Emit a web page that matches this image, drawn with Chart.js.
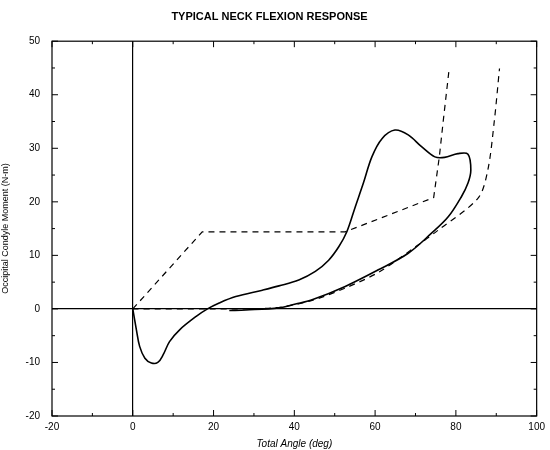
<!DOCTYPE html>
<html>
<head>
<meta charset="utf-8">
<script src="https://cdn.jsdelivr.net/npm/chart.js@4/dist/chart.umd.min.js"></script>
<style>
  html, body { margin: 0; padding: 0; background: #fff; }
  #wrap { width: 550px; height: 450px; }
</style>
</head>
<body>
<div id="wrap"><canvas id="neckChart" width="550" height="450"></canvas></div>
<script>
// measured response loop (x = total angle deg, y = moment N-m)
const responseX = [0, 0.9, 1.7, 3, 4.6, 6.2, 7.5, 9.1, 11.6, 15.7, 18.5, 21.4, 25.5, 32.1, 36.2, 41.1, 45.2, 48.5, 51, 53, 55.1, 57.1, 59.2, 61.7, 64.9, 68.2, 71.5, 74.8, 77.2, 80.5, 83, 83.7, 83, 81.4, 78.1, 73.9, 68.2, 60.8, 52.6, 44.4, 40.3, 36.2, 28, 23.9];
const responseY = [0, -3.9, -7, -9.2, -10.1, -10, -8.6, -6.1, -3.9, -1.4, 0, 1.1, 2.3, 3.5, 4.3, 5.4, 7, 9.1, 11.6, 14.4, 19.1, 23.5, 28.4, 31.8, 33.4, 32.5, 30.3, 28.4, 28.3, 29, 28.9, 25.9, 23.5, 21, 17.2, 14.1, 10.4, 7.3, 4.2, 1.7, 0.9, 0.2, -0.2, -0.3];

// corridor boundaries (dashed)
const upperX = [0, 17.2, 52.6, 74.5, 75.9, 76.9, 78.3];
const upperY = [0, 14.4, 14.4, 20.8, 28.4, 35.3, 44.6];
const lowerX = [0, 20, 35, 44, 52.6, 61, 70, 75.6, 85.5, 87.9, 89.5, 90.8];
const lowerY = [0, 0, 0.2, 1.5, 3.9, 6.9, 11.6, 14.7, 20.7, 25.9, 35, 44.9];

const xTicks = [-20, 0, 20, 40, 60, 80, 100];
const yTicks = [-20, -10, 0, 10, 20, 30, 40, 50];

function toPoints(xs, ys) {
    return xs.map((x, i) => ({ x: x, y: ys[i] }));
}

// frame + inward tick marks like the original plot
const framePlugin = {
    id: "frame",
    afterDraw(chart) {
        const ctx = chart.ctx;
        const a = chart.chartArea;
        const xs = chart.scales.x;
        const ys = chart.scales.y;
        ctx.save();
        ctx.strokeStyle = "#000";
        ctx.lineWidth = 1.2;
        ctx.strokeRect(a.left, a.top, a.right - a.left, a.bottom - a.top);
        ctx.lineWidth = 1;
        ctx.beginPath();
        for (let v = -20; v <= 100; v += 10) {
            const p = xs.getPixelForValue(v);
            const len = v % 20 === 0 ? 6 : 3;
            ctx.moveTo(p, a.bottom); ctx.lineTo(p, a.bottom - len);
            ctx.moveTo(p, a.top); ctx.lineTo(p, a.top + len);
        }
        for (let v = -20; v <= 50; v += 5) {
            const p = ys.getPixelForValue(v);
            const len = v % 10 === 0 ? 6 : 3;
            ctx.moveTo(a.left, p); ctx.lineTo(a.left + len, p);
            ctx.moveTo(a.right, p); ctx.lineTo(a.right - len, p);
        }
        ctx.stroke();
        ctx.restore();
    }
};

const zeroLine = (c) => c.tick && c.tick.value === 0 ? "#000" : "rgba(0,0,0,0)";

new Chart(document.getElementById("neckChart").getContext("2d"), {
    type: "scatter",
    data: {
        datasets: [
            {
                label: "Response",
                data: toPoints(responseX, responseY),
                showLine: true,
                borderColor: "#000",
                borderWidth: 1.6,
                pointRadius: 0,
                tension: 0.35
            },
            {
                label: "Upper corridor",
                data: toPoints(upperX, upperY),
                showLine: true,
                borderColor: "#000",
                borderWidth: 1.2,
                borderDash: [6, 5],
                pointRadius: 0,
                tension: 0
            },
            {
                label: "Lower corridor",
                data: toPoints(lowerX, lowerY),
                showLine: true,
                borderColor: "#000",
                borderWidth: 1.2,
                borderDash: [6, 5],
                pointRadius: 0,
                tension: 0.3
            }
        ]
    },
    options: {
        responsive: false,
        animation: false,
        layout: { padding: { left: 0, right: 11, top: 0, bottom: 0 } },
        plugins: {
            legend: { display: false },
            tooltip: { enabled: false },
            title: {
                display: true,
                text: "TYPICAL NECK FLEXION RESPONSE",
                color: "#000",
                font: { family: "Liberation Sans, Arial, sans-serif", size: 11, weight: "bold" },
                padding: { top: 10, bottom: 18 }
            }
        },
        scales: {
            x: {
                type: "linear",
                min: -20,
                max: 100,
                afterBuildTicks: (s) => { s.ticks = xTicks.map(v => ({ value: v })); },
                afterFit: (s) => { s.height = 34; },
                border: { display: false },
                grid: { color: zeroLine, lineWidth: 1.2, drawTicks: false },
                ticks: {
                    color: "#000",
                    padding: 5,
                    font: { family: "Liberation Sans, Arial, sans-serif", size: 10 }
                },
                title: {
                    display: true,
                    text: "Total Angle (deg)",
                    color: "#000",
                    padding: { top: 0, bottom: 0 },
                    font: { family: "Liberation Sans, Arial, sans-serif", size: 10, style: "italic" }
                }
            },
            y: {
                type: "linear",
                min: -20,
                max: 50,
                afterBuildTicks: (s) => { s.ticks = yTicks.map(v => ({ value: v })); },
                afterFit: (s) => { s.width = 52; },
                border: { display: false },
                grid: { color: zeroLine, lineWidth: 1.2, drawTicks: false },
                ticks: {
                    color: "#000",
                    padding: 12,
                    font: { family: "Liberation Sans, Arial, sans-serif", size: 10 }
                },
                title: {
                    display: true,
                    text: "Occipital Condyle Moment (N-m)",
                    color: "#000",
                    padding: { top: 0, bottom: 0 },
                    font: { family: "Liberation Sans, Arial, sans-serif", size: 9 }
                }
            }
        }
    },
    plugins: [framePlugin]
});
</script>
</body>
</html>
